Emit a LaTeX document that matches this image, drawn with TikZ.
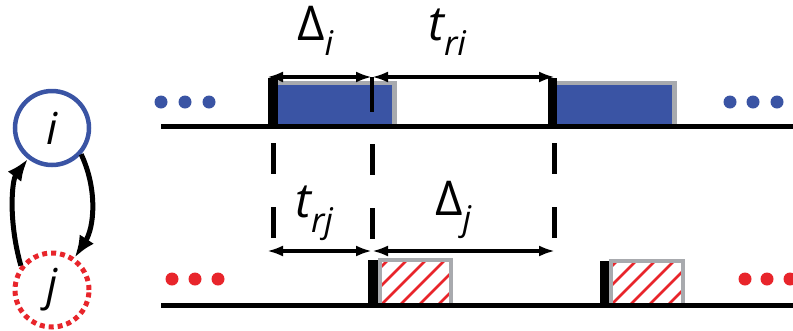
\documentclass[tikz,border=0pt]{standalone}
\usepackage{fontspec}
\setmainfont{Open Sans}
\usetikzlibrary{arrows.meta}
\definecolor{myblue}{RGB}{58,84,164}
\definecolor{myred}{RGB}{232,37,43}
\definecolor{mygray}{RGB}{168,170,174}
\newcommand\mysub[1]{\raisebox{-15pt}{\fontsize{34}{36}\selectfont\itshape #1}}
\begin{document}
\begin{tikzpicture}[x=1pt,y=-1pt,
  tline/.style={line width=5pt},
  dimarrow/.style={line width=4.5pt,{Latex[length=16pt,width=11pt]}-{Latex[length=16pt,width=11pt]}},
  vdashline/.style={line width=5pt,dash pattern=on 31pt off 33pt},
  bar/.style={fill=black},
  hatchline/.style={myred,line width=2.5pt},
  lbl/.style={inner sep=0pt,anchor=base west,font=\fontsize{48}{52}\selectfont},
  gnode/.style={circle,inner sep=0pt,minimum size=74pt,font=\fontsize{44}{48}\selectfont\itshape},
  garrow/.style={line width=5pt,-{Latex[length=22pt,width=17pt]}}]
\useasboundingbox (0,0) rectangle (793,330);

% graph
\node[gnode,draw=myblue,line width=4.5pt] (i) at (52,128) {i};
\node[gnode,draw=myred,line width=5pt,dash pattern=on 5pt off 4pt] (j) at (52,290) {j};
\draw[garrow] (j.142) .. controls (8,220) and (12,180) .. (i.232);
\draw[garrow] (i.-42) .. controls (98,190) and (94,228) .. (j.55);

% top timeline
\coordinate (t0) at (161,126);
\coordinate (t1) at (793,126);
\fill[mygray] (278,81) rectangle (397,126);
\fill[myblue] (278,85) rectangle (392,126);
\fill[mygray] (557,81) rectangle (677,126);
\fill[myblue] (557,85) rectangle (672,126);
\fill[bar] (268,78) rectangle (278,128);
\fill[bar] (548,78) rectangle (557,128);
\draw[tline] (t0) -- (t1);
\foreach \x in {161,185,209} \fill[myblue] (\x,102) circle (6.5);
\foreach \x in {730,753,777} \fill[myblue] (\x,102) circle (6.5);

% top dimension arrows
\coordinate (a0) at (267,77);
\coordinate (a1) at (372,77);
\coordinate (a2) at (555,77);
\coordinate (a1b) at (372,112);
\draw[line width=4.5pt] (a1) -- (a1b);
\draw[dimarrow] (a0) -- (a1);
\draw[dimarrow] (a1) -- (a2);

% dashed verticals
\coordinate (d0a) at (273,143); \coordinate (d0b) at (273,238);
\coordinate (d1a) at (372,144); \coordinate (d1b) at (372,240);
\coordinate (d2a) at (554,143); \coordinate (d2b) at (554,238);
\draw[vdashline] (d0a) -- (d0b);
\draw[vdashline] (d1a) -- (d1b);
\draw[vdashline] (d2a) -- (d2b);

% bottom dimension arrows
\coordinate (b0) at (267,251);
\coordinate (b1) at (372,251);
\coordinate (b2) at (555,251);
\draw[dimarrow] (b0) -- (b1);
\draw[dimarrow] (b1) -- (b2);

% bottom timeline
\coordinate (u0) at (161,305);
\coordinate (u1) at (793,305);
\begin{scope}
  \clip (379,260) rectangle (452,305);
  \foreach \x in {300,319,...,470} \draw[hatchline] (\x,310) -- (\x+60,250);
\end{scope}
\begin{scope}
  \clip (610,261) rectangle (684,305);
  \foreach \x in {530,549,...,700} \draw[hatchline] (\x,310) -- (\x+60,250);
\end{scope}
\draw[mygray,line width=4pt] (380,305) |- (451,260) -- (451,305);
\draw[mygray,line width=4pt] (611,305) |- (683,261) -- (683,305);
\fill[bar] (368,260) rectangle (378,306);
\fill[bar] (600,261) rectangle (609,306);
\draw[tline] (u0) -- (u1);
\foreach \x in {172,195,218} \fill[myred] (\x,279) circle (6.5);
\foreach \x in {745,767,790} \fill[myred] (\x,279) circle (6.5);

% labels
\node[lbl] (LDi) at (297,40) {Δ\mysub{i}};
\node[lbl] (Lti) at (428,40) {\itshape t\mysub{ri}};
\node[lbl] (Ltj) at (295,217) {\itshape t\mysub{rj}};
\node[lbl] (LDj) at (435,215) {Δ\mysub{j}};
\end{tikzpicture}
\end{document}
